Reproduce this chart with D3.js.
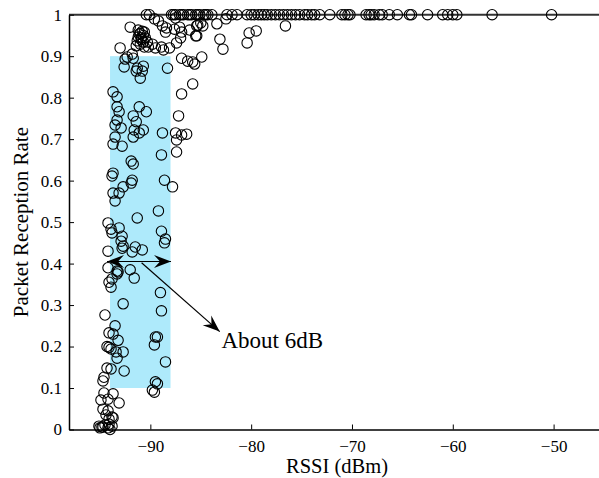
<!DOCTYPE html>
<html><head><meta charset="utf-8">
<script src="https://cdn.jsdelivr.net/npm/d3@7"></script>
<style>
body{margin:0;background:#fff}
svg text{font-family:'Liberation Serif','Times New Roman',Times,'DejaVu Serif',serif;fill:#000}
</style>
</head><body>
<svg id="chart" width="599" height="478" font-family="'Liberation Serif','Times New Roman',Times,'DejaVu Serif',serif"></svg>
<script>
// ---------- data ----------
const xTickValues = [-90, -80, -70, -60, -50];
const yTickValues = [0, 0.1, 0.2, 0.3, 0.4, 0.5, 0.6, 0.7, 0.8, 0.9, 1];
const xTitle = "RSSI (dBm)";
const yTitle = "Packet Reception Rate";

// [rssi, prr] pairs
const scatterLow = [
  [-93.5,0.25],[-94.1,0.233],[-93.7,0.23],[-93.2,0.215],[-94.3,0.20],[-94.1,0.198],[-93.9,0.194],
  [-93.4,0.187],[-92.7,0.187],[-93.3,0.172],[-94.3,0.148],[-93.9,0.146],[-92.6,0.141],[-94.6,0.126],
  [-94.7,0.117],[-94.6,0.088],[-93.7,0.086],[-94.9,0.071],[-94.2,0.073],[-93.1,0.064],[-94.7,0.049],
  [-94.2,0.045],[-94.4,0.035],[-93.8,0.03],[-93.7,0.028],[-94.1,0.025],[-95.1,0.008],[-94.8,0.006],
  [-94.5,0.011],[-94.1,0.013],[-93.8,0.008],[-94.2,0.004],[-95.0,0.004],[-94.7,0.006],[-94.0,0.0],
  [-89.5,0.223],[-89.3,0.223],[-89.6,0.204],[-88.5,0.163],[-89.5,0.115],[-89.3,0.11],[-89.8,0.095],[-89.6,0.09]
];
const scatterMid = [
  [-91.3,0.51],[-94.2,0.498],[-93.9,0.483],[-93.8,0.474],[-93.1,0.486],[-92.8,0.466],[-92.9,0.454],
  [-92.7,0.442],[-92.8,0.437],[-91.8,0.428],[-91.5,0.44],[-90.8,0.433],[-94.2,0.43],[-88.9,0.478],
  [-88.5,0.459],[-88.6,0.45],[-94.2,0.39],[-93.3,0.382],[-93.2,0.38],[-93.3,0.375],[-92.0,0.385],
  [-91.6,0.365],[-93.8,0.363],[-94.1,0.355],[-93.9,0.343],[-89.0,0.33],[-92.7,0.303],[-88.9,0.286],[-94.5,0.276]
];
const scatterUpperMid = [
  [-93.1,0.766],[-91.7,0.756],[-90.4,0.766],[-93.3,0.746],[-91.4,0.742],[-93.5,0.734],[-92.9,0.727],
  [-91.6,0.722],[-90.7,0.722],[-91.1,0.715],[-91.7,0.705],[-93.5,0.705],[-93.7,0.688],[-92.8,0.683],
  [-88.8,0.715],[-87.2,0.756],[-87.5,0.715],[-86.9,0.71],[-86.4,0.712],[-87.4,0.698],[-87.4,0.669],
  [-88.9,0.662],[-91.9,0.647],[-91.7,0.64],[-93.7,0.618],[-93.8,0.611],[-91.8,0.601],[-91.9,0.594],
  [-92.7,0.585],[-88.6,0.601],[-87.8,0.585],[-93.1,0.57],[-93.7,0.57],[-93.5,0.551],[-89.2,0.527]
];
const scatterHigh = [
  [-89.6,0.99],[-89.2,0.985],[-88.8,0.973],[-88.4,0.968],[-87.6,0.965],[-87.1,0.97],[-88.5,0.958],
  [-87.5,0.992],[-92.0,0.97],
  [-91.2,0.963],[-90.8,0.96],[-91.1,0.953],[-90.7,0.95],[-90.9,0.944],[-90.5,0.944],[-91.3,0.937],
  [-90.7,0.934],[-90.3,0.934],[-91.0,0.929],[-91.4,0.925],[-90.2,0.922],[-89.8,0.929],[-90.6,0.922],
  [-91.0,0.955],[-90.9,0.94],[-90.6,0.958],[-91.2,0.946],
  [-93.0,0.92],[-89.5,0.92],[-88.9,0.922],[-88.7,0.915],[-88.1,0.92],[-87.4,0.932],[-87.0,0.944],
  [-86.9,0.958],[-85.5,0.949],[-86.1,0.963],[-85.3,0.975],
  [-91.8,0.905],[-92.3,0.898],[-92.5,0.893],[-91.7,0.895],[-86.9,0.895],[-86.3,0.888],[-85.6,0.881],
  [-85.8,0.886],[-84.9,0.898],
  [-92.6,0.874],[-91.3,0.871],[-90.7,0.876],[-91.4,0.864],[-90.8,0.864],[-91.0,0.847],[-88.3,0.871],
  [-85.8,0.833],[-86.9,0.809],[-93.7,0.814],[-93.3,0.802],[-93.3,0.778],[-91.1,0.778],
  [-85.0,0.98],[-85.4,0.973],[-84.8,0.973],[-83.4,0.978],[-85.4,0.949],[-83.1,0.941],[-82.8,0.917],
  [-80.4,0.932],[-80.2,0.956],[-79.5,0.961],[-76.6,0.973],[-82.5,0.99]
];
// points with PRR = 1
const perfectRssi = [
  -90.4,-90.1,-87.9,-87.7,-87.5,-87.1,-86.9,-86.7,-86.3,-86.1,-85.9,-85.5,-85.3,-85.1,-84.7,-84.5,
  -84.3,-83.9,-82.4,-81.9,-81.4,-80.4,-80.0,-79.7,-79.3,-79.0,-78.7,-78.4,-78.0,-77.6,-77.2,-76.8,
  -76.4,-76.0,-75.6,-75.2,-74.7,-74.4,-74.0,-73.7,-73.2,-72.2,-71.0,-70.7,-70.4,-70.2,-68.6,-68.3,
  -68.1,-67.8,-67.3,-67.0,-66.3,-65.5,-64.3,-64.1,-62.5,-61.0,-60.5,-60.0,-59.6,-56.1,-50.2
];
// highlighted band: rssi range and prr range
const bandRssi = [-94, -88];
const bandPrr = [0.1, 0.9];
// annotation arrows: [rssi, prr] endpoints
const doubleArrow = [[-94.3, 0.405], [-87.95, 0.405]];
const pointerArrow = [[-90.87, 0.402], [-83.12, 0.236]];
const noteText = "About 6dB";
const notePos = [-82.95, 0.196];

// ---------- chart ----------
const FONT = "'Liberation Serif','Times New Roman',Times,'DejaVu Serif',serif";
const svg = d3.select("#chart");
const x = d3.scaleLinear().domain([-98.07, -45]).range([69, 604]);
const y = d3.scaleLinear().domain([0, 1]).range([429.5, 14.7]);

// band
svg.append("rect")
  .attr("x", x(bandRssi[0])).attr("y", y(bandPrr[1]))
  .attr("width", x(bandRssi[1]) - x(bandRssi[0]))
  .attr("height", y(bandPrr[0]) - y(bandPrr[1]))
  .attr("fill", "#aeeafb");

// top frame line
svg.append("line")
  .attr("x1", x.range()[0]).attr("x2", x.range()[1])
  .attr("y1", y(1)).attr("y2", y(1))
  .attr("stroke", "#333").attr("stroke-width", 2);

// scatter
const allPts = scatterLow.concat(scatterMid, scatterUpperMid, scatterHigh, perfectRssi.map(r => [r, 1]));
svg.append("g").selectAll("circle").data(allPts).join("circle")
  .attr("cx", d => x(d[0])).attr("cy", d => y(d[1]))
  .attr("r", 5.2).attr("fill", "none").attr("stroke", "#000").attr("stroke-width", 1.1);

// axes
const fmtY = d => d === 0 ? "0" : d === 1 ? "1" : d3.format(".1f")(d);
const xAxis = d3.axisBottom(x).tickValues(xTickValues).tickFormat(d3.format("d"))
  .tickSizeInner(-5).tickSizeOuter(0).tickPadding(10);
const yAxis = d3.axisLeft(y).tickValues(yTickValues).tickFormat(fmtY)
  .tickSizeInner(-5).tickSizeOuter(0).tickPadding(7);

const gx = svg.append("g").attr("transform", `translate(0,${y(0)})`).call(xAxis);
const gy = svg.append("g").attr("transform", `translate(${x.range()[0]},0)`).call(yAxis);
[gx, gy].forEach(g => {
  g.attr("font-family", FONT).attr("font-size", 17);
  g.select(".domain").attr("stroke", "#000").attr("stroke-width", 1.5);
  g.selectAll(".tick line").attr("stroke", "#000").attr("stroke-width", 1);
  g.selectAll(".tick text").attr("fill", "#000");
});

// axis titles
svg.append("text").attr("x", 337).attr("y", 473).attr("font-family", FONT)
  .attr("text-anchor", "middle").attr("font-size", 20.5).text(xTitle);
svg.append("text").attr("transform", `translate(28,${(y(0) + y(1)) / 2}) rotate(-90)`)
  .attr("font-family", FONT).attr("text-anchor", "middle").attr("font-size", 21).text(yTitle);

// arrows
function arrowHead(tip, from) {
  const [tx, ty] = tip, [fx, fy] = from;
  const a = Math.atan2(ty - fy, tx - fx);
  const L = 17, Wd = 6.5, N = 11;
  const pts = [[0, 0], [-L, -Wd], [-N, 0], [-L, Wd]].map(([px, py]) =>
    [tx + px * Math.cos(a) - py * Math.sin(a), ty + px * Math.sin(a) + py * Math.cos(a)]);
  svg.append("path").attr("d", "M" + pts.map(p => p.join(",")).join("L") + "Z").attr("fill", "#000");
}
const da = doubleArrow.map(d => [x(d[0]), y(d[1])]);
svg.append("line").attr("x1", da[0][0]).attr("y1", da[0][1]).attr("x2", da[1][0]).attr("y2", da[1][1])
  .attr("stroke", "#000").attr("stroke-width", 1.2);
arrowHead(da[0], da[1]);
arrowHead(da[1], da[0]);
const pa = pointerArrow.map(d => [x(d[0]), y(d[1])]);
svg.append("line").attr("x1", pa[0][0]).attr("y1", pa[0][1]).attr("x2", pa[1][0]).attr("y2", pa[1][1])
  .attr("stroke", "#000").attr("stroke-width", 1.2);
arrowHead(pa[1], pa[0]);

svg.append("text").attr("x", x(notePos[0])).attr("y", y(notePos[1]))
  .attr("font-family", FONT).attr("font-size", 23).text(noteText);
</script>
</body></html>
